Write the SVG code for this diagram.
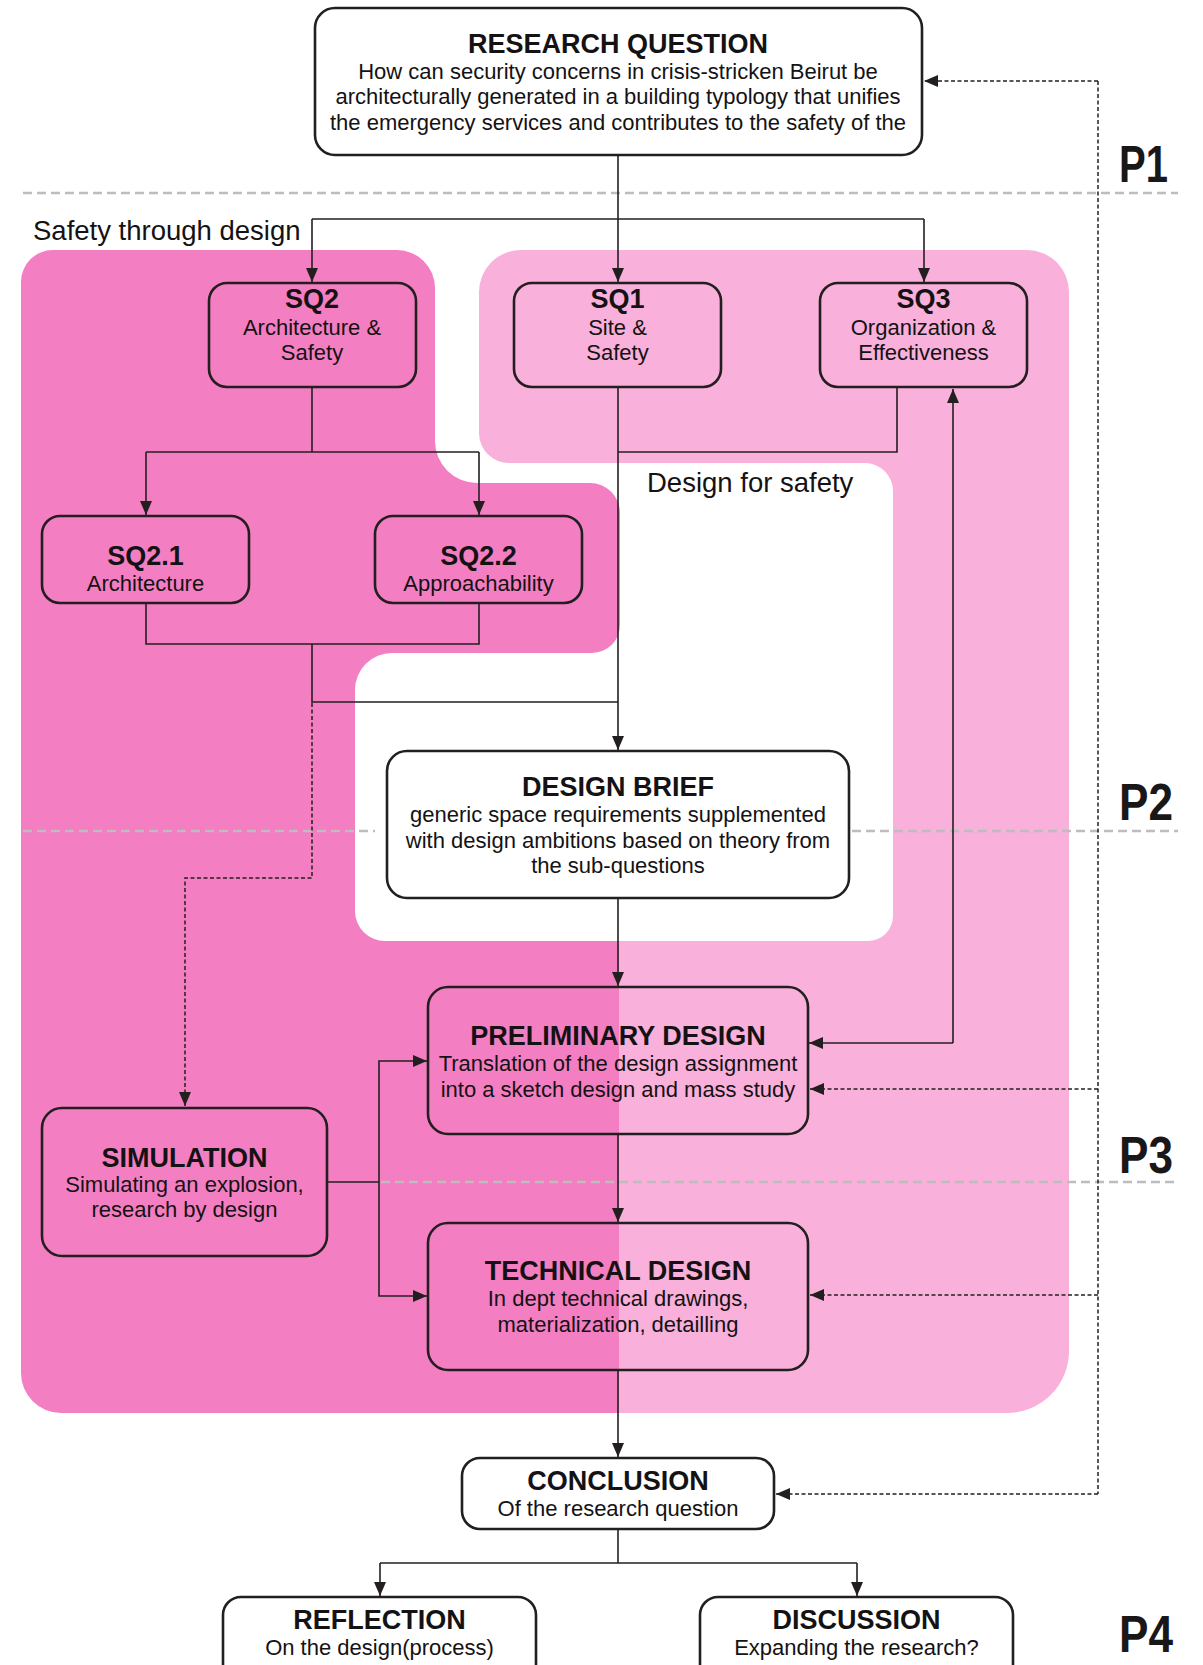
<svg xmlns="http://www.w3.org/2000/svg" width="1203" height="1665" viewBox="0 0 1203 1665">
<defs>
<style>
.box{stroke:#231F20;stroke-width:2.6}
.wb{fill:#FFFFFF}
.nb{fill:none}
.t{font-family:"Liberation Sans",Arial,sans-serif;text-anchor:middle;fill:#141213}
.h{font-weight:bold;font-size:27px}
.b{font-size:22px}
.conn{fill:none;stroke:#231F20;stroke-width:1.6}
.dot{fill:none;stroke:#231F20;stroke-width:1.5;stroke-dasharray:4 2.5}
.gray{fill:none;stroke:#BDBDBD;stroke-width:2.5;stroke-dasharray:9 5}
.lbl{font-family:"Liberation Sans",Arial,sans-serif;font-size:27.5px;fill:#141213}
.p{font-family:"Liberation Sans",Arial,sans-serif;font-weight:bold;font-size:51px;fill:#1A1718}
</style>
<marker id="arr" markerUnits="userSpaceOnUse" markerWidth="14" markerHeight="12" refX="14" refY="6" orient="auto-start-reverse">
<path d="M0,0 L14,6 L0,12 z" fill="#231F20"/>
</marker>
</defs>
<rect width="1203" height="1665" fill="#FFFFFF"/>

<g id="regions">
<path id="light-region" fill="#F9B0DA" d="M521,250 H1027 A42,42 0 0 1 1069,292 V1351 A62,62 0 0 1 1007,1413 H619 V941 H868 A25,25 0 0 0 893,916 V491 A28,28 0 0 0 865,463 H509 A30,30 0 0 1 479,433 V292 A42,42 0 0 1 521,250 Z"/>
<path id="dark-region" fill="#F47EC2" d="M53,250 H397 A38,38 0 0 1 435,288 V441 A42,42 0 0 0 477,483 H590 A30,30 0 0 1 620,513 V625 A28,28 0 0 1 592,653 H392 A37,37 0 0 0 355,690 V911 A30,30 0 0 0 385,941 H619 V1413 H61 A40,40 0 0 1 21,1373 V282 A32,32 0 0 1 53,250 Z"/>
<text class="lbl" x="33" y="240">Safety through design</text>
<text class="lbl" x="647" y="492">Design for safety</text>
</g>

<g id="phases">
<line class="gray" x1="23" y1="193" x2="1178" y2="193"/>
<line class="gray" x1="23" y1="831" x2="375" y2="831"/>
<line class="gray" x1="838" y1="831" x2="1178" y2="831"/>
<line class="gray" x1="381" y1="1182" x2="1178" y2="1182"/>
<text class="p" x="1119" y="182" textLength="49" lengthAdjust="spacingAndGlyphs">P1</text>
<text class="p" x="1119" y="820" textLength="54" lengthAdjust="spacingAndGlyphs">P2</text>
<text class="p" x="1119" y="1173" textLength="54" lengthAdjust="spacingAndGlyphs">P3</text>
<text class="p" x="1119" y="1652" textLength="54" lengthAdjust="spacingAndGlyphs">P4</text>
</g>

<g id="connectors">
<path class="conn" d="M618,156 V282" marker-end="url(#arr)"/>
<path class="conn" d="M312,219 H924"/>
<path class="conn" d="M312,219 V282" marker-end="url(#arr)"/>
<path class="conn" d="M924,219 V282" marker-end="url(#arr)"/>
<path class="conn" d="M312,388 V452"/>
<path class="conn" d="M146,452 H479"/>
<path class="conn" d="M146,452 V515" marker-end="url(#arr)"/>
<path class="conn" d="M479,452 V515" marker-end="url(#arr)"/>
<path class="conn" d="M146,604 V644 H479 V604"/>
<path class="conn" d="M312,644 V702 H618"/>
<path class="conn" d="M897,388 V452 H618"/>
<path class="conn" d="M618,388 V750" marker-end="url(#arr)"/>
<path class="dot" d="M312,703 V878 H185 V1106" marker-end="url(#arr)"/>
<path class="conn" d="M618,899 V986" marker-end="url(#arr)"/>
<path class="conn" d="M953,1043 V389" marker-end="url(#arr)"/>
<path class="conn" d="M953,1043 H809" marker-end="url(#arr)"/>
<path class="conn" d="M618,1135 V1222" marker-end="url(#arr)"/>
<path class="conn" d="M328,1182 H379"/>
<path class="conn" d="M379,1182 V1061 H427" marker-end="url(#arr)"/>
<path class="conn" d="M379,1182 V1296 H427" marker-end="url(#arr)"/>
<path class="conn" d="M618,1371 V1457" marker-end="url(#arr)"/>
<path class="conn" d="M618,1530 V1563"/>
<path class="conn" d="M380,1563 H857"/>
<path class="conn" d="M380,1563 V1596" marker-end="url(#arr)"/>
<path class="conn" d="M857,1563 V1596" marker-end="url(#arr)"/>
<path class="dot" d="M1098,81 V1494"/>
<path class="dot" d="M1098,81 H924" marker-end="url(#arr)"/>
<path class="dot" d="M1098,1089 H810" marker-end="url(#arr)"/>
<path class="dot" d="M1098,1295 H810" marker-end="url(#arr)"/>
<path class="dot" d="M1098,1494 H776" marker-end="url(#arr)"/>
</g>

<g id="research-question">
<rect class="box wb" x="315" y="8" width="607" height="147" rx="20"/>
<text class="t h" x="618" y="53">RESEARCH QUESTION</text>
<text class="t b" x="618" y="79">How can security concerns in crisis-stricken Beirut be</text>
<text class="t b" x="618" y="104">architecturally generated in a building typology that unifies</text>
<text class="t b" x="618" y="130">the emergency services and contributes to the safety of the</text>
</g>

<g id="sq2">
<rect class="box nb" x="209" y="283" width="207" height="104" rx="18"/>
<text class="t h" x="312" y="308">SQ2</text>
<text class="t b" x="312" y="335">Architecture &amp;</text>
<text class="t b" x="312" y="360">Safety</text>
</g>

<g id="sq1">
<rect class="box nb" x="514" y="283" width="207" height="104" rx="18"/>
<text class="t h" x="617.5" y="308">SQ1</text>
<text class="t b" x="617.5" y="335">Site &amp;</text>
<text class="t b" x="617.5" y="360">Safety</text>
</g>

<g id="sq3">
<rect class="box nb" x="820" y="283" width="207" height="104" rx="18"/>
<text class="t h" x="923.5" y="308">SQ3</text>
<text class="t b" x="923.5" y="335">Organization &amp;</text>
<text class="t b" x="923.5" y="360">Effectiveness</text>
</g>

<g id="sq2-1">
<rect class="box nb" x="42" y="516" width="207" height="87" rx="18"/>
<text class="t h" x="145.5" y="565">SQ2.1</text>
<text class="t b" x="145.5" y="591">Architecture</text>
</g>

<g id="sq2-2">
<rect class="box nb" x="375" y="516" width="207" height="87" rx="18"/>
<text class="t h" x="478.5" y="565">SQ2.2</text>
<text class="t b" x="478.5" y="591">Approachability</text>
</g>

<g id="design-brief">
<rect class="box wb" x="387" y="751" width="462" height="147" rx="20"/>
<text class="t h" x="618" y="796">DESIGN BRIEF</text>
<text class="t b" x="618" y="822">generic space requirements supplemented</text>
<text class="t b" x="618" y="848">with design ambitions based on theory from</text>
<text class="t b" x="618" y="873">the sub-questions</text>
</g>

<g id="preliminary-design">
<rect class="box nb" x="428" y="987" width="380" height="147" rx="20"/>
<text class="t h" x="618" y="1045">PRELIMINARY DESIGN</text>
<text class="t b" x="618" y="1071">Translation of the design assignment</text>
<text class="t b" x="618" y="1097">into a sketch design and mass study</text>
</g>

<g id="simulation">
<rect class="box nb" x="42" y="1108" width="285" height="148" rx="20"/>
<text class="t h" x="184.5" y="1167">SIMULATION</text>
<text class="t b" x="184.5" y="1192">Simulating an explosion,</text>
<text class="t b" x="184.5" y="1217">research by design</text>
</g>

<g id="technical-design">
<rect class="box nb" x="428" y="1223" width="380" height="147" rx="20"/>
<text class="t h" x="618" y="1280">TECHNICAL DESIGN</text>
<text class="t b" x="618" y="1306">In dept technical drawings,</text>
<text class="t b" x="618" y="1332">materialization, detailling</text>
</g>

<g id="conclusion">
<rect class="box wb" x="462" y="1458" width="312" height="71" rx="18"/>
<text class="t h" x="618" y="1490">CONCLUSION</text>
<text class="t b" x="618" y="1516">Of the research question</text>
</g>

<g id="reflection">
<rect class="box wb" x="223" y="1597" width="313" height="100" rx="18"/>
<text class="t h" x="379.5" y="1629">REFLECTION</text>
<text class="t b" x="379.5" y="1655">On the design(process)</text>
</g>

<g id="discussion">
<rect class="box wb" x="700" y="1597" width="313" height="100" rx="18"/>
<text class="t h" x="856.5" y="1629">DISCUSSION</text>
<text class="t b" x="856.5" y="1655">Expanding the research?</text>
</g>
</svg>
